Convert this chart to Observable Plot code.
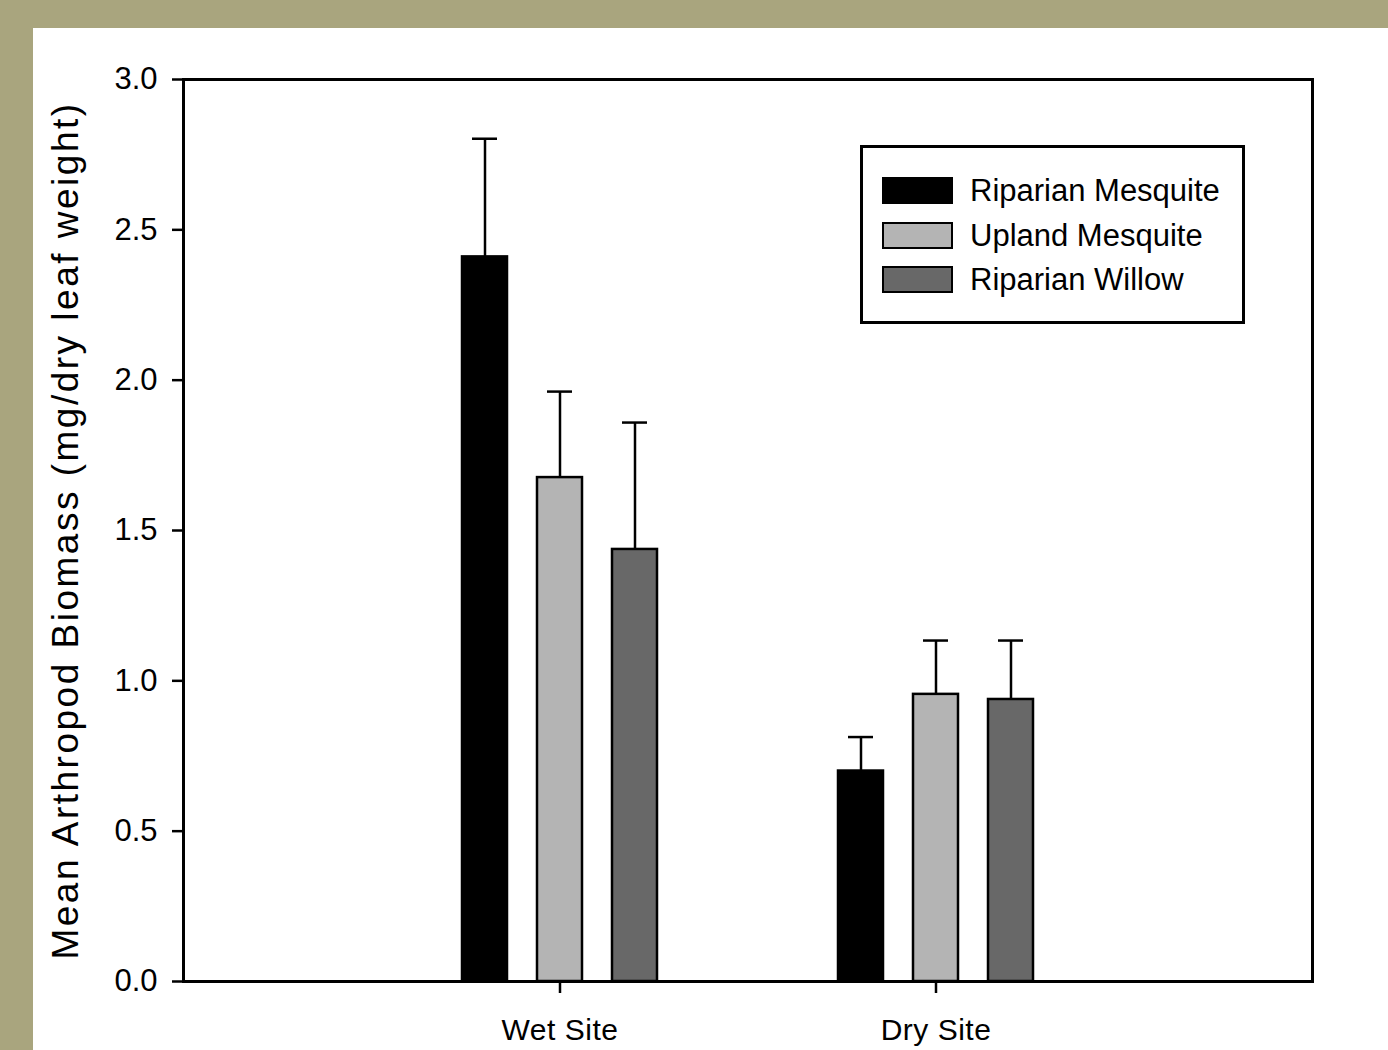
<!DOCTYPE html>
<html><head><meta charset="utf-8">
<script src="https://cdn.jsdelivr.net/npm/d3@7"></script>
<script src="https://cdn.jsdelivr.net/npm/@observablehq/plot@0.6"></script>
<style>
body{margin:0;background:#a9a57e;width:1388px;height:1050px;overflow:hidden;font-family:"Liberation Sans",Arial,sans-serif}
#panel{position:absolute;left:33px;top:28px;width:1355px;height:1022px;background:#fff;overflow:hidden}
#legend{position:absolute;left:827px;top:117px;width:385px;height:179px;border:3px solid #000;box-sizing:border-box;background:#fff}
.sw{position:absolute;left:19px;width:71px;height:27px;box-sizing:border-box;border:2px solid #000}
.lt{position:absolute;left:107px;font-size:31px;line-height:27px;height:27px;color:#000;white-space:nowrap}
</style></head><body><div id="panel"></div>
<script>
const sites = ["Wet Site", "Dry Site"];
const series = ["Riparian Mesquite", "Upland Mesquite", "Riparian Willow"];
const colors = ["#000000", "#b4b4b4", "#686868"];
// mean values per site (Wet, Dry)
const riparianMesquite = [2.41, 0.70];
const uplandMesquite = [1.676, 0.955];
const riparianWillow = [1.437, 0.938];
// standard errors per site (Wet, Dry)
const riparianMesquiteErr = [0.393, 0.113];
const uplandMesquiteErr = [0.286, 0.179];
const riparianWillowErr = [0.422, 0.196];
const yTicks = [0, 0.5, 1.0, 1.5, 2.0, 2.5, 3.0];
const yLabel = "Mean Arthropod Biomass (mg/dry leaf weight)";

const means = [riparianMesquite, uplandMesquite, riparianWillow];
const errs = [riparianMesquiteErr, uplandMesquiteErr, riparianWillowErr];
const offsets = [-75, 0, 75];

const marks = [];
series.forEach((s, k) => {
  const rows = sites.map((site, i) => ({site, series: s, mean: means[k][i], upper: means[k][i] + errs[k][i]}));
  marks.push(Plot.ruleX(rows, {x: "site", y1: "mean", y2: "upper", dx: offsets[k], stroke: "black", strokeWidth: 2.5}));
  marks.push(Plot.tickY(rows, {x: "site", y: "upper", dx: offsets[k], insetLeft: 138, insetRight: 138, stroke: "black", strokeWidth: 2.5}));
  marks.push(Plot.barY(rows, {x: "site", y: "mean", dx: offsets[k], insetLeft: 128, insetRight: 128, fill: colors[k], stroke: "black", strokeWidth: 2.5}));
});

const chart = Plot.plot({
  width: 1355,
  height: 1022,
  marginLeft: 150,
  marginRight: 76,
  marginTop: 51,
  marginBottom: 69,
  style: {background: "transparent", fontFamily: "Liberation Sans, Arial, sans-serif", fontSize: "30px", color: "black"},
  x: {type: "band", domain: sites, paddingInner: 0.2, paddingOuter: 0.6},
  y: {domain: [0, 3]},
  marks: [
    ...marks,
    Plot.frame({stroke: "black", strokeWidth: 3}),
    Plot.axisY(yTicks, {tickFormat: d3.format(".1f"), tickSize: 11, tickPadding: 15, strokeWidth: 2.5, fontSize: 31, label: null}),
    Plot.axisX({tickSize: 12, tickPadding: 25, strokeWidth: 2.5, fontSize: 30, label: null}),
    Plot.text([yLabel], {frameAnchor: "left", rotate: -90, dx: -132, lineAnchor: "top", textAnchor: "middle", fontSize: 37, fill: "black"})
  ]
});

const panel = document.getElementById("panel");
panel.appendChild(chart);
chart.querySelectorAll("text").forEach(t => {
  if (t.textContent.startsWith("Mean")) t.style.letterSpacing = "2.5px";
  if (t.textContent.endsWith("Site")) t.style.letterSpacing = "0.5px";
});

const legend = document.createElement("div");
legend.id = "legend";
series.forEach((s, k) => {
  const top = 29 + k * 44.5;
  const sw = document.createElement("div");
  sw.className = "sw";
  sw.style.top = top + "px";
  sw.style.background = colors[k];
  legend.appendChild(sw);
  const lt = document.createElement("div");
  lt.className = "lt";
  lt.style.top = top + "px";
  lt.textContent = s;
  legend.appendChild(lt);
});
panel.appendChild(legend);
</script>
</body></html>
